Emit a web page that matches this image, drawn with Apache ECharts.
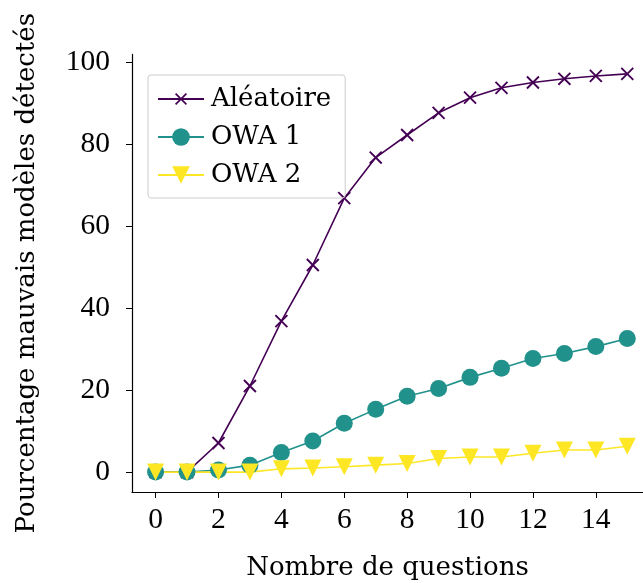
<!DOCTYPE html>
<html><head><meta charset="utf-8">
<script src="https://cdn.jsdelivr.net/npm/echarts@6/dist/echarts.min.js"></script>
<style>html,body{margin:0;padding:0;background:#fff}#c{width:643px;height:583px}</style>
</head><body><div id="c"></div>
<script>
const questions = [0,1,2,3,4,5,6,7,8,9,10,11,12,13,14,15];
const aleatoire = [0,0,7.1,21.0,36.8,50.5,66.8,76.7,82.2,87.6,91.3,93.7,95.0,95.9,96.6,97.1];
const owa1 = [0,0,0.5,1.7,4.8,7.6,11.9,15.3,18.5,20.4,23.1,25.3,27.7,28.9,30.6,32.6];
const owa2 = [0,0,0,0,0.8,1.0,1.3,1.7,2.1,3.3,3.7,3.7,4.6,5.4,5.4,6.3];
const xTicks = [0,2,4,6,8,10,12,14];
const yTicks = [0,20,40,60,80,100];
const names = ['Aléatoire','OWA 1','OWA 2'];

const numFont = 'Liberation Serif';
const txtFont = 'DejaVu Serif';
const chart = echarts.init(document.getElementById('c'), null, {renderer:'canvas'});
const pair = arr => arr.map((v,i)=>[questions[i], v]);
const xPath = 'path://M-2.33,-2.33 M12.33,12.33 M0,1L1,0L10,9L9,10Z M9,0L10,1L1,10L0,9Z';
chart.setOption({
  animation:false,
  backgroundColor:'#fff',
  grid:{left:132, right:0, top:54.4, bottom:91, containLabel:false, outerBoundsMode:'none'},
  xAxis:{type:'value', min:-0.75, max:15.5,
    name:'Nombre de questions', nameLocation:'middle', nameGap:63,
    nameTextStyle:{fontFamily:txtFont, fontSize:26, color:'#000'},
    axisLine:{show:true, onZero:false, lineStyle:{color:'#000', width:1.2}},
    axisTick:{show:true, length:6, customValues:xTicks, lineStyle:{color:'#000', width:1}},
    axisLabel:{customValues:xTicks, fontFamily:numFont, fontSize:29.5, color:'#000', margin:13},
    splitLine:{show:false}},
  yAxis:{type:'value', min:-4.85, max:101.85,
    name:'Pourcentage mauvais modèles détectés', nameLocation:'middle', nameGap:92,
    nameTextStyle:{fontFamily:txtFont, fontSize:26, color:'#000'},
    axisLine:{show:true, onZero:false, lineStyle:{color:'#000', width:1.2}},
    axisTick:{show:true, length:6, customValues:yTicks, lineStyle:{color:'#000', width:1}},
    axisLabel:{customValues:yTicks, fontFamily:numFont, fontSize:29.5, color:'#000', margin:22},
    splitLine:{show:false}},
  legend:{orient:'vertical', left:148, top:75, data:names,
    itemWidth:46, itemHeight:22, itemGap:12,
    padding:[11,14,10,9],
    borderColor:'#cccccc', borderWidth:1, borderRadius:3,
    textStyle:{fontFamily:txtFont, fontSize:26, color:'#000', padding:[0,0,0,2]}},
  series:[
    {name:names[0], type:'line', data:pair(aleatoire), symbol:xPath, symbolSize:19.5,
      lineStyle:{color:'#440154', width:1.6}, itemStyle:{color:'#440154'}},
    {name:names[1], type:'line', data:pair(owa1), symbol:'circle', symbolSize:17,
      lineStyle:{color:'#21918c', width:1.6}, itemStyle:{color:'#21918c'}},
    {name:names[2], type:'line', data:pair(owa2), symbol:'triangle', symbolRotate:180, symbolSize:17,
      lineStyle:{color:'#fde725', width:1.6}, itemStyle:{color:'#fde725'}}
  ]
});
</script></body></html>
